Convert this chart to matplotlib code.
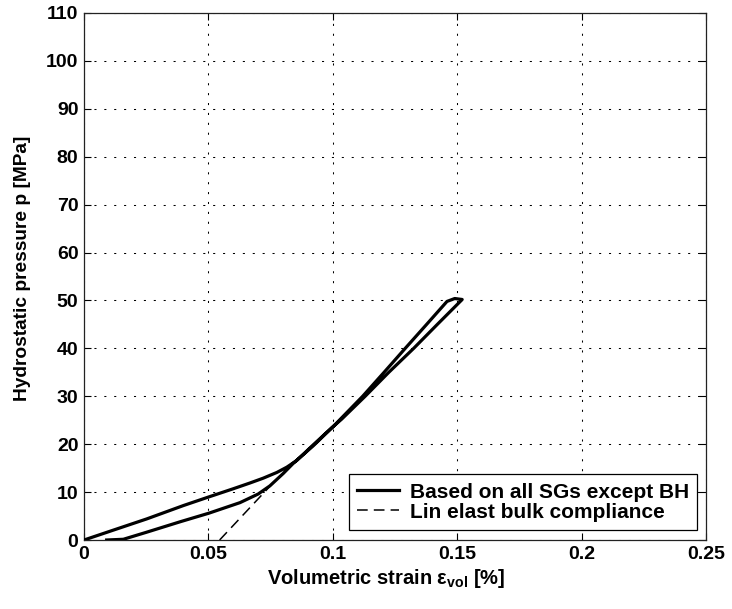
import matplotlib
matplotlib.use("Agg")
import matplotlib.pyplot as plt
import numpy as np

# loading branch (starts at offset strain), then unloading branch back to origin
load_strain = [0.0091, 0.0158, 0.025, 0.0386, 0.0502, 0.0627, 0.0700, 0.0747,
               0.0801, 0.0841, 0.092, 0.100, 0.112, 0.1206, 0.1291, 0.1377,
               0.1459, 0.149, 0.152]
load_p = [0.0, 0.15, 1.6, 3.8, 5.6, 7.8, 9.6, 11.3,
          13.9, 16.0, 19.6, 23.6, 30.0, 35.0, 40.0, 45.0,
          49.8, 50.4, 50.2]
unload_strain = [0.152, 0.142, 0.1325, 0.1225, 0.113, 0.1035, 0.0995, 0.092,
                 0.0855, 0.0815, 0.0775, 0.072, 0.0667, 0.060, 0.0502, 0.040,
                 0.0252, 0.012, 0.0]
unload_p = [50.2, 45.0, 40.0, 35.0, 30.0, 25.2, 23.4, 19.8,
            16.6, 15.2, 14.1, 12.9, 11.9, 10.7, 9.0, 7.2,
            4.4, 2.1, 0.0]

# linear elastic bulk compliance line
lin_strain = [0.0545, 0.0765]
lin_p = [0.0, 12.2]

xticks = [0, 0.05, 0.1, 0.15, 0.2, 0.25]
xticklabels = ["0", "0.05", "0.1", "0.15", "0.2", "0.25"]
yticks = list(range(0, 111, 10))

plt.rcParams['font.family'] = ['Liberation Sans', 'DejaVu Sans']
plt.rcParams['font.weight'] = 'bold'
plt.rcParams['mathtext.fontset'] = 'custom'
plt.rcParams['mathtext.rm'] = 'Liberation Sans:bold'
plt.rcParams['mathtext.bf'] = 'Liberation Sans:bold'
plt.rcParams['mathtext.it'] = 'Liberation Sans:bold'

fig = plt.figure(figsize=(7.32, 6.09), dpi=100)
ax = fig.add_axes([0.1148, 0.1133, 0.8497, 0.8654])

strain = load_strain + unload_strain[1:]
pressure = load_p + unload_p[1:]
ax.plot(lin_strain, lin_p, color='black', linewidth=1.1, dashes=(7, 4),
        label='Lin elast bulk compliance', zorder=2)
ax.plot(strain, pressure, color='black', linewidth=2.3,
        solid_joinstyle='round', label='Based on all SGs except BH', zorder=3)

ax.set_xlim(0, 0.25)
ax.set_ylim(0, 110)
ax.set_xticks(xticks)
ax.set_xticklabels(xticklabels)
ax.set_yticks(yticks)
ax.tick_params(direction='in', top=True, right=True, length=5, width=0.8,
               labelsize=14, pad=4)
for lbl in ax.get_xticklabels() + ax.get_yticklabels():
    lbl.set_fontweight('bold')
ax.grid(True, color='black', linestyle=(0, (2, 7.5)), linewidth=0.75)
for sp in ax.spines.values():
    sp.set_linewidth(0.9)
    sp.set_color('#222222')

ax.set_xlabel(r"Volumetric strain ε$_{\mathbf{vol}}$ [%]", fontsize=14.5,
              fontweight='bold')
ax.set_ylabel("Hydrostatic pressure p [MPa]", fontsize=13.8, fontweight='bold')
ax.xaxis.set_label_coords(0.486, -0.052)
ax.yaxis.set_label_coords(-0.085, 0.516)

handles, labels = ax.get_legend_handles_labels()
leg = ax.legend(handles[::-1], labels[::-1], loc='lower right',
                bbox_to_anchor=(0.9855, 0.019), fontsize=15, frameon=True,
                fancybox=False, edgecolor='black', framealpha=1,
                handlelength=2.0, borderpad=0.4, labelspacing=0.05,
                handletextpad=0.5, borderaxespad=0)
leg.get_frame().set_linewidth(0.9)
for t in leg.get_texts():
    t.set_fontweight('bold')

fig.savefig("out.png", dpi=100)
